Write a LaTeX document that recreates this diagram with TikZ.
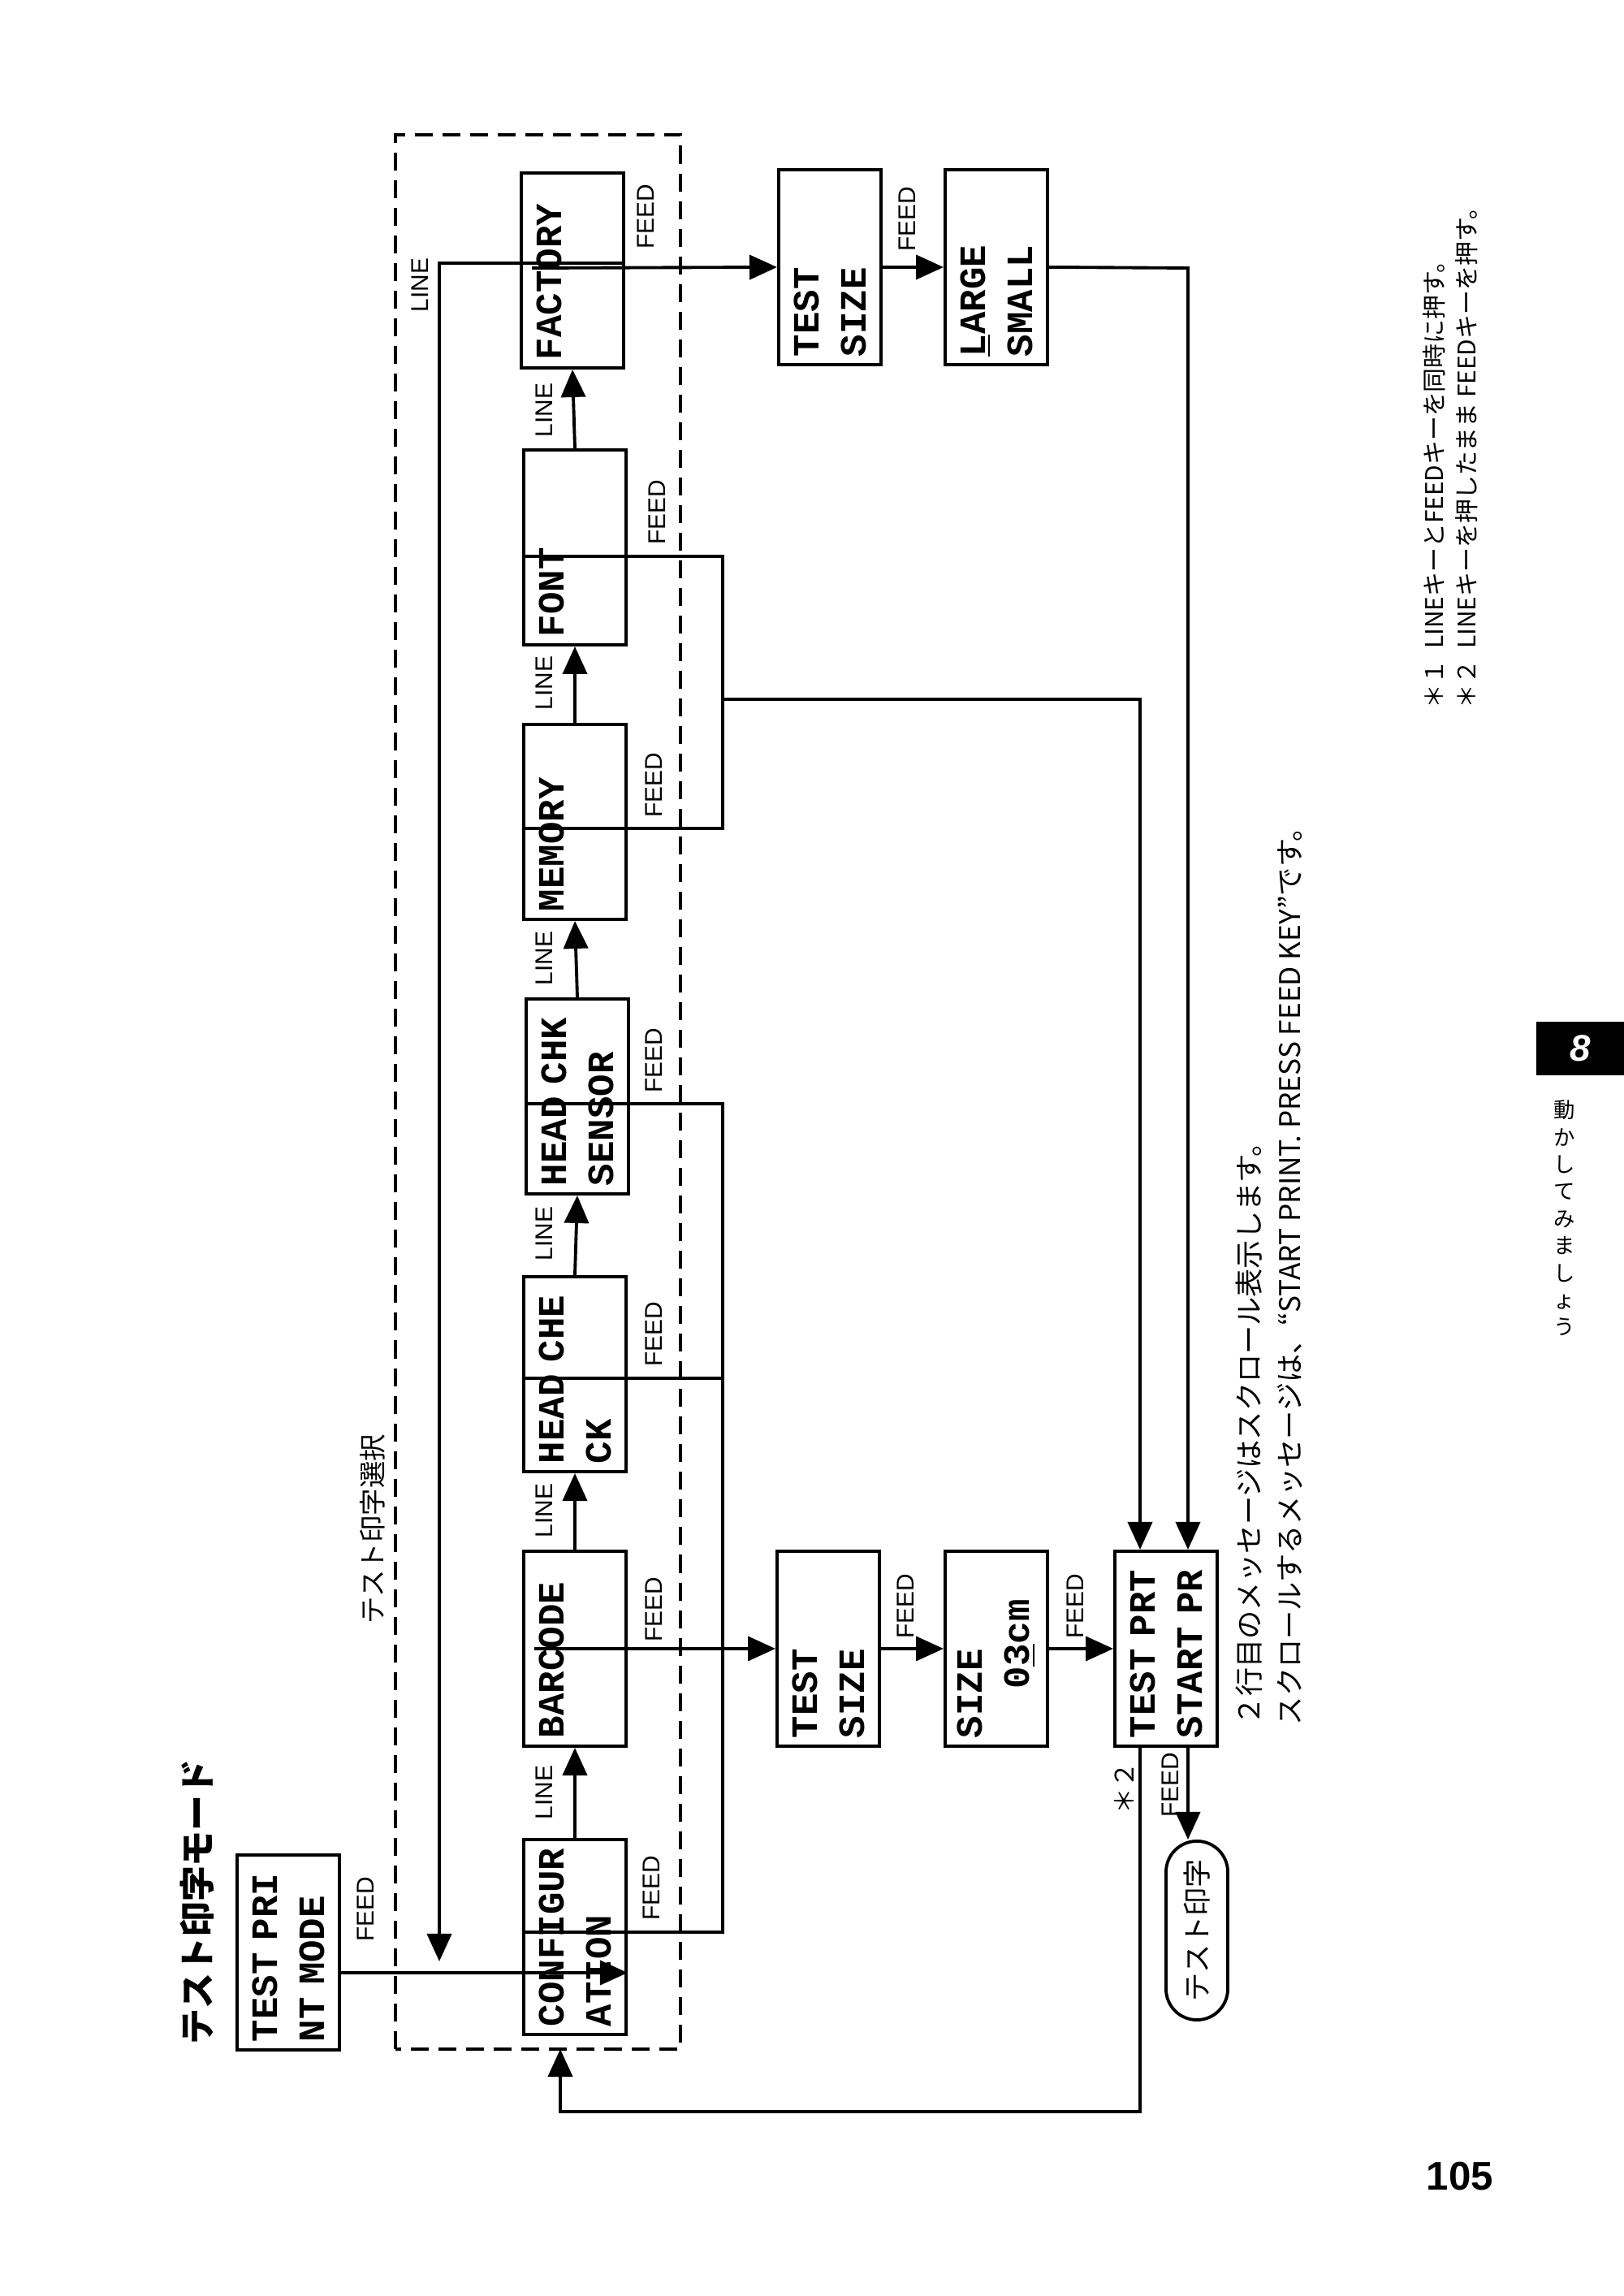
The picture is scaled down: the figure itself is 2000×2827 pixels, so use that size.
\documentclass[tikz,border=0pt]{standalone}
\usepackage{fontspec}
\setmainfont{Liberation Sans}
\newfontfamily\mono{Liberation Mono}
\newfontfamily\jp{Noto Sans CJK JP}
\usetikzlibrary{arrows.meta,calc}
\begin{document}
\begin{tikzpicture}[x=0.01cm,y=0.01cm,line width=1.1pt,
  box/.style={draw,rectangle,rotate=90,minimum width=2.4cm,minimum height=1.26cm,
    text width=2.2cm,align=left,inner sep=0pt,font=\mono\bfseries\fontsize{13}{16.5}\selectfont},
  lab/.style={rotate=90,font=\fontsize{8.5}{9}\selectfont,inner sep=0pt},
  jt/.style={rotate=90,font=\jp\fontsize{10}{12}\selectfont,inner sep=0pt},
  arr/.style={-{Triangle[length=0.34cm,width=0.3cm]}},
  dsh/.style={dash pattern=on 0.22cm off 0.12cm}]
\useasboundingbox (0,0) rectangle (2000,2827);
% boxes
\node[box] (tpm) at (355,423) {TEST PRI\\NT MODE};
\node[box] (conf) at (708,442) {CONFIGUR\\ATION};
\node[box] (bar) at (708,797) {BARCODE\\\mbox{}};
\node[box] (hc) at (708,1135) {HEAD CHE\\CK};
\node[box] (hck) at (711,1477) {HEAD CHK\\SENSOR};
\node[box] (mem) at (708,1815) {MEMORY\\\mbox{}};
\node[box] (font) at (708,2153) {FONT\\\mbox{}};
\node[box] (fac) at (705,2494) {FACTORY\\\mbox{}};
\node[box] (ts1) at (1020,797) {TEST\\SIZE};
\node[box] (sz) at (1227,797) {SIZE\\\ \ \ \ 0\underline{3}cm};
\node[box] (tp) at (1436,797) {TEST PRT\\START PR};
\node[box] (ts2) at (1022,2498) {TEST\\SIZE};
\node[box] (lg) at (1227,2498) {\underline{L}ARGE\\SMALL};
\node[draw,rotate=90,minimum width=2.2cm,minimum height=0.76cm,rounded corners=0.38cm,
  font=\jp\fontsize{10}{12}\selectfont,inner sep=0pt] (ov) at (1474,450) {テスト印字};
% dashed area
\draw[dsh] (487,304) rectangle (838,2661);
% LINE arrows
\draw[arr] (conf.east) -- (bar.west);
\draw[arr] (bar.east) -- (hc.west);
\draw[arr] (hc.east) -- (hck.west);
\draw[arr] (hck.east) -- (mem.west);
\draw[arr] (mem.east) -- (font.west);
\draw[arr] (font.east) -- (fac.west);
% main arrows
\draw[arr] (tpm.south |- 0,398) -- (conf.south |- 0,398);
\draw[arr] ($(bar.north)+(15,0)$) -- (ts1.north);
\draw[arr] (ts1.south) -- (sz.north);
\draw[arr] (sz.south) -- (tp.north);
\draw[arr] ($(fac.north)+(15,3)$) -- (ts2.north);
\draw[arr] (ts2.south) -- (lg.north);
\draw[arr] (lg.south) -- (1463,2497) -- (tp.east -| 1463,0);
% FEED groups
\coordinate (g1) at (890,2142);
\draw (font.north |- g1) -- (g1) -- (890,1807) -- (mem.north |- 0,1807);
\draw[arr] (890,1966) -- (1404,1966) -- (tp.east -| 1404,0);
\draw (conf.north |- 0,448) -- (890,448) -- (890,1468) -- (hck.north |- 0,1468);
\draw (hc.north |- 0,1130) -- (890,1130);
% LINE loop
\draw[arr] (fac.south |- 0,2503) -- (541,2503) -- (541,412);
% bottom loop
\draw[arr] (tp.west -| 1404,0) -- (1404,227) -- (690,227) -- (690,304);
% to oval
\draw[arr] (tp.west -| 1463,0) -- (ov.east -| 1463,0);
% labels
\node[lab] at (450,476) {FEED};
\node[lab] at (802,502) {FEED};
\node[lab] at (805,845) {FEED};
\node[lab] at (805,1184) {FEED};
\node[lab] at (805,1521) {FEED};
\node[lab] at (805,1860) {FEED};
\node[lab] at (809,2196) {FEED};
\node[lab] at (795,2560) {FEED};
\node[lab] at (1115,849) {FEED};
\node[lab] at (1324,849) {FEED};
\node[lab] at (1117,2557) {FEED};
\node[lab] at (1441,629) {FEED};
\node[lab] at (670,620) {LINE};
\node[lab] at (670,967) {LINE};
\node[lab] at (670,1308) {LINE};
\node[lab] at (670,1647) {LINE};
\node[lab] at (670,1986) {LINE};
\node[lab] at (670,2322) {LINE};
\node[lab] at (517,2476) {LINE};
\node[jt,font=\jp\fontsize{9}{10}\selectfont] at (1384,625) {＊２};
% texts
\node[jt,font=\jp\bfseries\fontsize{12.5}{14}\selectfont] at (243,485) {テスト印字モード};
\node[jt,font=\jp\fontsize{9.5}{11}\selectfont] at (459,944) {テスト印字選択};
\node[jt,anchor=north west] at (1520,701) {２行目のメッセージはスクロール表示します。};
\node[jt,anchor=north west] at (1571,701) {スクロールするメッセージは、“START PRINT. PRESS FEED KEY”です。};
\node[jt,font=\jp\fontsize{8.5}{10}\selectfont,anchor=north west] at (1750,1953) {＊１\ \ LINEキーとFEEDキーを同時に押す。};
\node[jt,font=\jp\fontsize{8.5}{10}\selectfont,anchor=north west] at (1790,1953) {＊２\ \ LINEキーを押したまま FEEDキーを押す。};
\fill (1892,1503) rectangle (2000,1569);
\node[text=white,font=\bfseries\itshape\fontsize{13}{14}\selectfont] at (1946,1536) {8};
\node[font=\jp\fontsize{7.5}{9.5}\selectfont,align=center,inner sep=0pt] at (1927,1327)
  {動\\か\\し\\て\\み\\ま\\し\\ょ\\う};
\node[font=\bfseries\fontsize{14}{16}\selectfont] at (1798,147) {105};
\end{tikzpicture}
\end{document}
